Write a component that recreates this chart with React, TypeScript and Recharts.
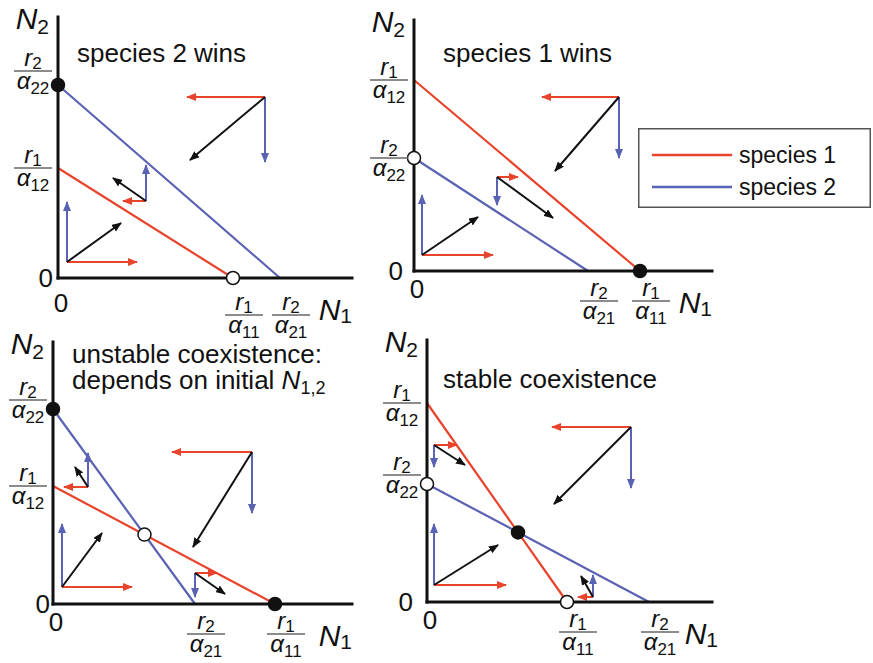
import React from 'react';
import { ComposedChart, Line, Scatter, XAxis, YAxis } from 'recharts';

const RED = '#e8432b';
const BLUE = '#5a62b3';
const INK = '#111111';
const FONT = '"Liberation Sans", Arial, Helvetica, sans-serif';

const SPECIES = ['species 1', 'species 2'];
const SPECIES_COLORS = [RED, BLUE];

const TITLES = [
  ['species 2 wins'],
  ['species 1 wins'],
  ['unstable coexistence:', 'depends on initial N'],
  ['stable coexistence'],
];

// isocline intercepts for the four panels (same N units on both axes)
const R1_A11 = [17.5, 22.6, 22.2, 14.0]; // species 1 isocline on N1 axis
const R1_A12 = [11.0, 19.1, 11.8, 19.9]; // species 1 isocline on N2 axis
const R2_A21 = [22.2, 17.4, 14.2, 22.2]; // species 2 isocline on N1 axis
const R2_A22 = [19.3, 11.3, 19.5, 11.8]; // species 2 isocline on N2 axis

const N1_MAX = [29.4, 29.8, 29.9, 28.5];
const N2_MAX = [26.1, 25.1, 26.2, 26.2];

// equilibria shown: 'n1' = (r1/a11, 0), 'n2' = (0, r2/a22), 'both' = crossing; true = stable
const EQUILIBRIA: [string, boolean][][] = [
  [['n2', true], ['n1', false]],
  [['n1', true], ['n2', false]],
  [['n2', true], ['n1', true], ['both', false]],
  [['n2', false], ['n1', false], ['both', true]],
];

// growth arrows: start point, tip of dN1 arrow (red), tip of dN2 arrow (blue), tip of net arrow
const ARROWS_P1 = [
  { at: [0.9, 1.6], n1: 7.9, n2: 7.6, net: [6.3, 5.5] },
  { at: [8.8, 7.7], n1: 6.5, n2: 11.3, net: [5.5, 10.0] },
  { at: [20.7, 18.1], n1: 12.9, n2: 11.6, net: [13.2, 11.8] },
];
const ARROWS_P2 = [
  { at: [0.8, 1.6], n1: 7.9, n2: 7.6, net: [6.4, 5.4] },
  { at: [8.3, 9.4], n1: 10.4, n2: 6.6, net: [13.9, 5.3] },
  { at: [20.5, 17.4], n1: 12.8, n2: 11.3, net: [14.1, 10.0] },
];
const ARROWS_P3 = [
  { at: [0.9, 1.7], n1: 7.9, n2: 8.0, net: [4.9, 7.1] },
  { at: [3.5, 11.7], n1: 1.1, n2: 15.1, net: [2.2, 13.7] },
  { at: [14.2, 3.1], n1: 16.4, n2: 0.7, net: [17.2, 1.0] },
  { at: [19.9, 15.2], n1: 11.9, n2: 9.1, net: [14.0, 5.7] },
];
const ARROWS_P4 = [
  { at: [0.7, 1.7], n1: 7.9, n2: 7.8, net: [7.1, 5.7] },
  { at: [0.7, 15.7], n1: 3.0, n2: 13.5, net: [3.8, 13.7] },
  { at: [16.6, 0.5], n1: 15.1, n2: 2.7, net: [15.4, 2.6] },
  { at: [20.4, 17.5], n1: 12.5, n2: 11.4, net: [12.7, 9.8] },
];
const ARROWS = [ARROWS_P1, ARROWS_P2, ARROWS_P3, ARROWS_P4];

const ARROW_COLORS: Record<string, string> = { n1: RED, n2: BLUE, net: INK };

// page placement of each panel
const LAYOUT = [
  { left: 0, top: 0, width: 370, height: 350, yAxisW: 58, mTop: 17, mRight: 18, xAxisH: 72, xLabDy: 7, zeroDx: -5, r2a22Dy: -14, n1Dx: 0, titleX: 77, titleY: 40 },
  { left: 360, top: 0, width: 380, height: 350, yAxisW: 54, mTop: 20, mRight: 28, xAxisH: 79, xLabDy: 0, zeroDx: -11, r2a22Dy: 0, n1Dx: 0, titleX: 443, titleY: 40 },
  { left: 0, top: 320, width: 370, height: 343, yAxisW: 53, mTop: 22, mRight: 18, xAxisH: 59, xLabDy: 0, zeroDx: -3, r2a22Dy: -9, n1Dx: 0, titleX: 72, titleY: 341 },
  { left: 370, top: 320, width: 380, height: 343, yAxisW: 57, mTop: 20, mRight: 38, xAxisH: 61, xLabDy: 0, zeroDx: -14, r2a22Dy: -9, n1Dx: 6, titleX: 443, titleY: 366 },
];

function Frac({ cx, by, num, den }: { cx: number; by: number; num: string; den: string }) {
  return (
    <g fontFamily={FONT} fill={INK}>
      <text x={cx} y={by - 5} textAnchor="middle">
        <tspan fontSize={24} fontStyle="italic">r</tspan>
        <tspan fontSize={17} dy={3}>{num}</tspan>
      </text>
      <line x1={cx - 19} x2={cx + 19} y1={by} y2={by} stroke="#666" strokeWidth={1.5} />
      <text x={cx} y={by + 18} textAnchor="middle">
        <tspan fontSize={24} fontStyle="italic">α</tspan>
        <tspan fontSize={17} dy={5}>{den}</tspan>
      </text>
    </g>
  );
}

function AxisName({ x, y, anchor, sub, dy }: any) {
  return (
    <text x={x} y={y} textAnchor={anchor} fontFamily={FONT} fill={INK}>
      <tspan fontSize={30} fontStyle="italic">N</tspan>
      <tspan fontSize={21} dy={dy}>{sub}</tspan>
    </text>
  );
}

function Panel({ i }: { i: number }) {
  const L = LAYOUT[i];
  const sp1 = [{ x: 0, y: R1_A12[i] }, { x: R1_A11[i], y: 0 }];
  const sp2 = [{ x: 0, y: R2_A22[i] }, { x: R2_A21[i], y: 0 }];

  // crossing of the two isoclines
  const cx = (R1_A12[i] - R2_A22[i]) / (R1_A12[i] / R1_A11[i] - R2_A22[i] / R2_A21[i]);
  const cy = R1_A12[i] * (1 - cx / R1_A11[i]);

  const dots = EQUILIBRIA[i].map(([at, stable]) => {
    if (at === 'n1') return { x: R1_A11[i], y: 0, stable };
    if (at === 'n2') return { x: 0, y: R2_A22[i], stable };
    return { x: cx, y: cy, stable };
  });

  const xTicks = [
    { v: 0, num: '', den: '', dy: 0 },
    { v: R1_A11[i], num: '1', den: '11', dy: 0 },
    { v: R2_A21[i], num: '2', den: '21', dy: 0 },
  ];
  const yTicks = [
    { v: 0, num: '', den: '', dy: 0 },
    { v: R1_A12[i], num: '1', den: '12', dy: 0 },
    { v: R2_A22[i], num: '2', den: '22', dy: L.r2a22Dy },
  ];

  const arrowLines = ARROWS[i].flatMap((a) => [
    { kind: 'n1', pts: [{ x: a.at[0], y: a.at[1] }, { x: a.n1, y: a.at[1] }] },
    { kind: 'n2', pts: [{ x: a.at[0], y: a.at[1] }, { x: a.at[0], y: a.n2 }] },
    { kind: 'net', pts: [{ x: a.at[0], y: a.at[1] }, { x: a.net[0], y: a.net[1] }] },
  ]);

  const renderXTick = (p: any) => {
    const t = xTicks.find((d) => Math.abs(d.v - p.payload.value) < 1e-6);
    if (!t) return <g />;
    if (!t.num) {
      return (
        <text x={p.x + 3} y={p.y + 27 + L.xLabDy} textAnchor="middle" fontSize={26} fontFamily={FONT} fill={INK}>0</text>
      );
    }
    return <Frac cx={p.x + 11} by={p.y + 30 + L.xLabDy} num={t.num} den={t.den} />;
  };

  const renderYTick = (p: any) => {
    const t = yTicks.find((d) => Math.abs(d.v - p.payload.value) < 1e-6);
    if (!t) return <g />;
    if (!t.num) {
      return (
        <text x={p.x + L.zeroDx} y={p.y + 9} textAnchor="end" fontSize={26} fontFamily={FONT} fill={INK}>0</text>
      );
    }
    return <Frac cx={p.x - 25} by={p.y + t.dy} num={t.num} den={t.den} />;
  };

  return (
    <div style={{ position: 'absolute', left: L.left, top: L.top }}>
      <ComposedChart width={L.width} height={L.height} margin={{ top: L.mTop, right: L.mRight, left: 0, bottom: 0 }}>
        <XAxis
          type="number"
          dataKey="x"
          domain={[0, N1_MAX[i]]}
          ticks={xTicks.map((t) => t.v)}
          interval={0}
          tickSize={0}
          tickMargin={0}
          tickLine={false}
          height={L.xAxisH}
          axisLine={{ stroke: INK, strokeWidth: 3, strokeLinecap: 'square' }}
          tick={renderXTick}
          label={(p: any) => (
            <AxisName x={p.viewBox.x + p.viewBox.width + L.n1Dx} y={p.viewBox.y + 42} anchor="end" sub="1" dy={3} />
          )}
        />
        <YAxis
          type="number"
          dataKey="y"
          domain={[0, N2_MAX[i]]}
          ticks={yTicks.map((t) => t.v)}
          interval={0}
          tickSize={0}
          tickMargin={0}
          tickLine={false}
          width={L.yAxisW}
          axisLine={{ stroke: INK, strokeWidth: 3, strokeLinecap: 'square' }}
          tick={renderYTick}
          label={(p: any) => (
            <AxisName x={p.viewBox.x + p.viewBox.width - 9} y={p.viewBox.y + 12} anchor="end" sub="2" dy={5} />
          )}
        />
        <Line data={sp1} dataKey="y" name={SPECIES[0]} stroke={RED} strokeWidth={2.2} dot={false} activeDot={false} isAnimationActive={false} />
        <Line data={sp2} dataKey="y" name={SPECIES[1]} stroke={BLUE} strokeWidth={2.2} dot={false} activeDot={false} isAnimationActive={false} />
        {arrowLines.map((a, k) => (
          <Line
            key={`arrow-${k}`}
            data={a.pts}
            dataKey="y"
            stroke={ARROW_COLORS[a.kind]}
            strokeWidth={2}
            dot={false}
            activeDot={false}
            legendType="none"
            markerEnd={`url(#head-${a.kind})`}
            isAnimationActive={false}
          />
        ))}
        <Scatter
          data={dots}
          isAnimationActive={false}
          shape={(p: any) => (
            <circle cx={p.cx} cy={p.cy} r={6.5} fill={p.payload.stable ? INK : '#fff'} stroke={INK} strokeWidth={1.5} />
          )}
        />
      </ComposedChart>
    </div>
  );
}

function LegendBox() {
  return (
    <svg style={{ position: 'absolute', left: 638, top: 128 }} width={233} height={80}>
      <rect x={0.75} y={0.75} width={231.5} height={78.5} fill="#fff" stroke="#555" strokeWidth={1.5} />
      {SPECIES.map((name, k) => (
        <g key={name}>
          <line x1={14} x2={94} y1={27 + k * 32} y2={27 + k * 32} stroke={SPECIES_COLORS[k]} strokeWidth={2.5} />
          <text x={101} y={35 + k * 32} fontSize={23} fontFamily={FONT} fill={INK}>{name}</text>
        </g>
      ))}
    </svg>
  );
}

export default function App() {
  return (
    <div style={{ position: 'absolute', left: 0, top: 0, width: 873, height: 663, background: '#fff', fontFamily: FONT, overflow: 'hidden' }}>
      <svg width={0} height={0} style={{ position: 'absolute' }}>
        <defs>
          {Object.keys(ARROW_COLORS).map((k) => (
            <marker key={k} id={`head-${k}`} viewBox="0 0 10 8" refX={9} refY={4} markerWidth={10} markerHeight={8} markerUnits="userSpaceOnUse" orient="auto">
              <path d="M0,0 L10,4 L0,8 z" fill={ARROW_COLORS[k]} />
            </marker>
          ))}
        </defs>
      </svg>
      {LAYOUT.map((_, i) => (
        <Panel key={i} i={i} />
      ))}
      {LAYOUT.map((L, i) => (
        <div
          key={`title-${i}`}
          style={{ position: 'absolute', left: L.titleX, top: L.titleY, fontSize: 26, lineHeight: '26px', color: INK, whiteSpace: 'nowrap' }}
        >
          {TITLES[i].map((line, k) => (
            <div key={k}>
              {line.endsWith(' N') ? (
                <>
                  {line.slice(0, -1)}
                  <i>N</i>
                  <span style={{ fontSize: 18, position: 'relative', top: 5 }}>1,2</span>
                </>
              ) : (
                line
              )}
            </div>
          ))}
        </div>
      ))}
      <LegendBox />
    </div>
  );
}
